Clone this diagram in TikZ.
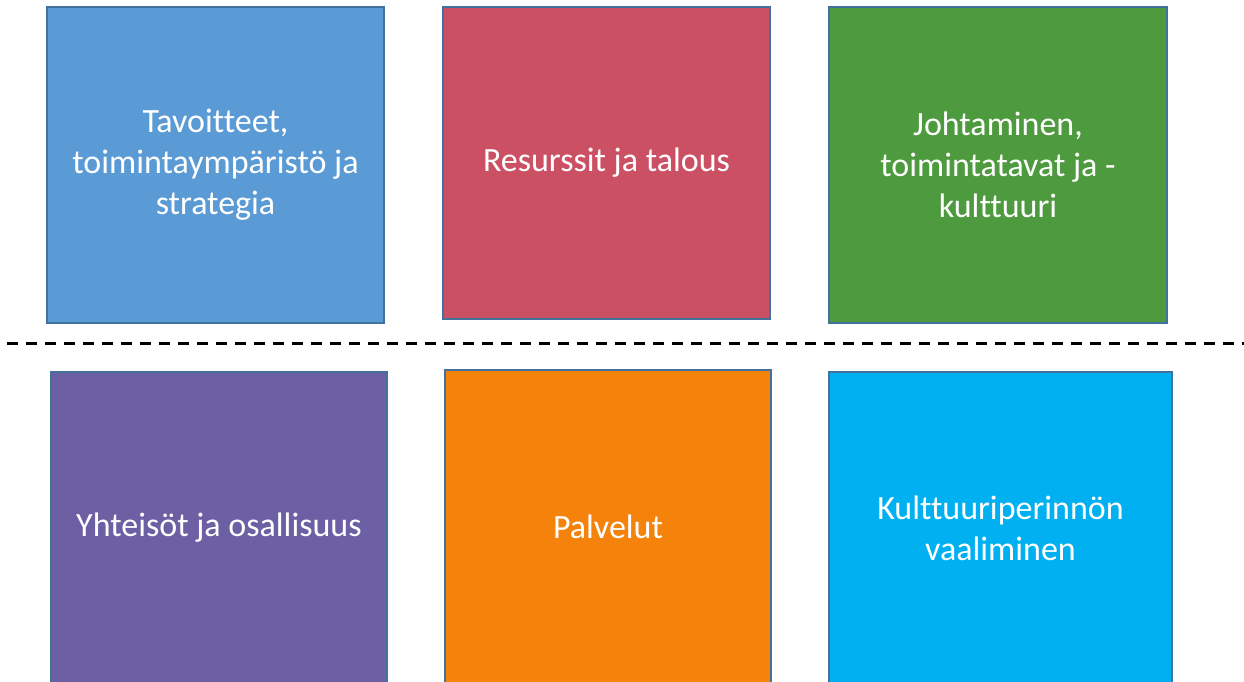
\documentclass[tikz,border=0pt]{standalone}
\usepackage{fontspec}
\setmainfont{Carlito}[Ligatures=CommonOff]
\usetikzlibrary{positioning}
\definecolor{reuna}{HTML}{41719C}
\definecolor{sininen}{HTML}{5B9BD5}
\definecolor{punainen}{HTML}{CC5064}
\definecolor{vihrea}{HTML}{4E9A3E}
\definecolor{violetti}{HTML}{6C5FA3}
\definecolor{oranssi}{HTML}{F5820B}
\definecolor{syaani}{HTML}{00B0F0}
\begin{document}
\begin{tikzpicture}[x=1pt,y=-1pt,
    ruutu/.style={draw=reuna,line width=1.5pt,text=white,align=center,inner sep=0pt,
      font=\fontsize{34}{41}\selectfont}]
        \useasboundingbox (0,0) rectangle (1244,681);
        \clip (0,0) rectangle (1244,681);
        % Upper row
        \node[ruutu,fill=sininen,minimum width=337pt,minimum height=316pt] (tavoitteet) at (215.5,165) {Tavoitteet,\\toimintaympäristö ja\\strategia};
        \node[ruutu,fill=punainen,minimum width=327pt,minimum height=312pt] (resurssit) at (606.5,163) {Resurssit ja talous};
        \node[ruutu,fill=vihrea,minimum width=338pt,minimum height=316pt] (johtaminen) at (998,165) {Johtaminen,\\toimintatavat ja -\\kulttuuri};
        % Separator
        \coordinate (viiva_a) at (7,343);
        \coordinate (viiva_b) at (1244,343);
        \draw[line width=3pt,dash pattern=on 11pt off 8pt] (viiva_a) -- (viiva_b);
        % Lower row
        \node[ruutu,fill=violetti,minimum width=336pt,minimum height=312pt] (yhteisot) at (219,528) {Yhteisöt ja osallisuus};
        \node[ruutu,fill=oranssi,minimum width=326pt,minimum height=314pt] (palvelut) at (608,527) {Palvelut};
        \node[ruutu,fill=syaani,minimum width=343pt,minimum height=312pt] (perinto) at (1000.5,528) {Kulttuuriperinnön\\vaaliminen};
\end{tikzpicture}
\end{document}
